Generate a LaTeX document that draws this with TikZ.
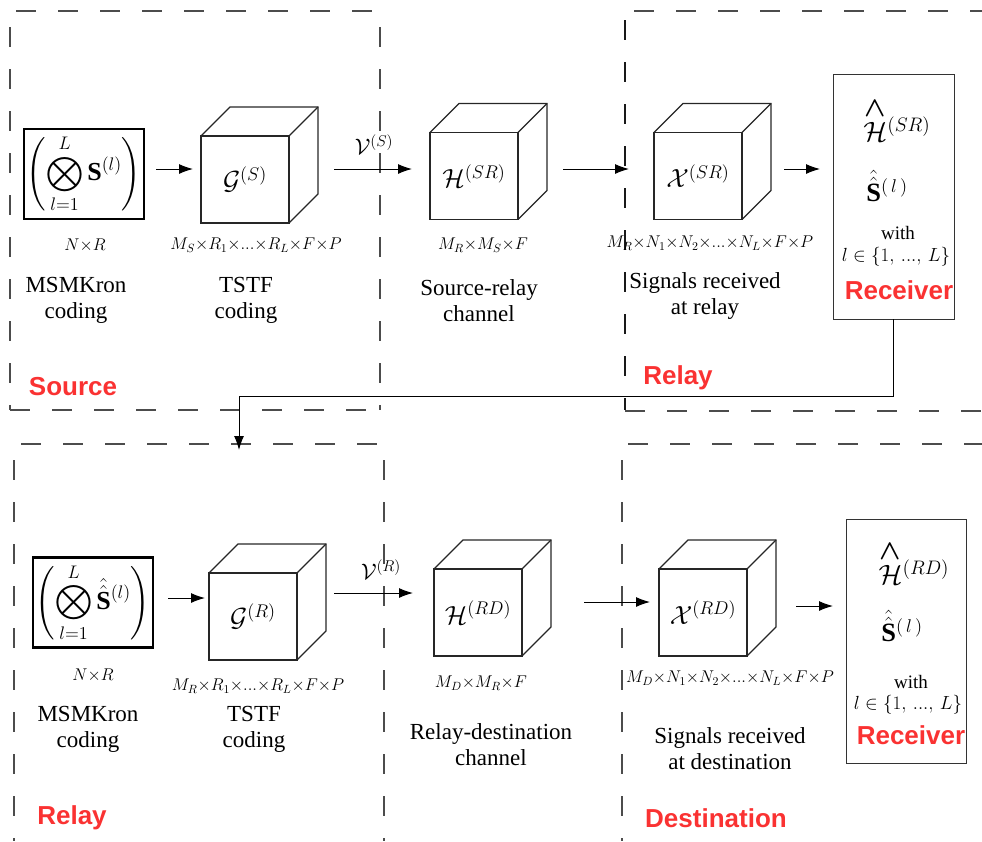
\RequirePackage{fix-cm}
\documentclass[tikz,border=0pt]{standalone}
\usepackage{amsmath}
\usepackage{graphicx}
\usepackage{fontspec}
\setmainfont{Liberation Serif}
\newfontfamily\labelfont{Liberation Sans}
\usetikzlibrary{arrows.meta}
\definecolor{tagred}{RGB}{250,50,50}

% depth edges of a cube whose front face is the node #1
\newcommand\cubedepth[1]{%
  \draw[cubeedge] (#1.north west) -- ++(29,-29) -- ++(88,0) -- ++(0,87) -- (#1.south east);
  \draw[cubeedge] (#1.north east) -- ++(29,-29);}
% enlarged math symbol
\newcommand\bigsym[2]{\scalebox{#1}{$#2$}}

\begin{document}
\begin{tikzpicture}[x=1pt,y=-1pt,
  frame/.style={draw=black!70, line width=1.3pt, dash pattern=on 20pt off 22pt},
  cubeface/.style={draw=black!85, line width=1.1pt, fill=white, minimum width=88pt,
    minimum height=87pt, inner sep=0pt, outer sep=0pt, font=\fontsize{21}{24}\selectfont},
  cubeedge/.style={draw=black!85, line width=1.1pt},
  kron/.style={draw, line width=2.6pt, minimum width=120pt, minimum height=90pt,
    inner sep=0pt, outer sep=0pt, font=\fontsize{22}{24}\selectfont},
  rxbox/.style={draw=black!80, line width=1pt, minimum width=121pt, minimum height=245pt,
    inner sep=0pt, outer sep=0pt},
  arr/.style={-{Latex[length=14pt,width=10pt]}, line width=1pt},
  txt/.style={font=\fontsize{23}{26}\selectfont, align=center, inner sep=0pt},
  dim/.style={font=\fontsize{17}{20}\selectfont, inner sep=0pt},
  tag/.style={font=\labelfont\bfseries\fontsize{26}{30}\selectfont, text=tagred, inner sep=0pt},
  rtxt/.style={font=\fontsize{19}{22}\selectfont, inner sep=0pt},
  sym/.style={font=\fontsize{22}{24}\selectfont, inner sep=0pt},
]
\useasboundingbox (0,0) rectangle (982,841);

% ---------------- dashed frames ----------------
\draw[frame] (16,11) -- (375,11);
\draw[frame] (10,27) -- (10,410);
\draw[frame] (380,27) -- (380,410);
\draw[frame] (10,410) -- (380,410);

\draw[frame] (634,11) -- (982,11);
\draw[frame,draw=black!90] (625,20) -- (625,410);
\draw[frame] (625,411) -- (982,411);

\draw[frame] (21,444) -- (380,444);
\draw[frame] (14,460) -- (14,841);
\draw[frame] (384,460) -- (384,841);

\draw[frame] (628,444) -- (982,444);
\draw[frame] (622,460) -- (622,841);

% ---------------- source to relay ----------------
\node[kron] (kronS) at (84,174)
  {\bigsym{1.18}{\left(\displaystyle\bigotimes_{l=1}^{L}\mathbf{S}^{(l)}\right)}};
\node[cubeface] (GS) at (245,179.5) {\bigsym{1.25}{\mathcal{G}^{(S)}}};
\node[cubeface] (HSR) at (474,176) {\bigsym{1.25}{\mathcal{H}^{(SR)}}};
\node[cubeface] (XSR) at (698,176) {\bigsym{1.25}{\mathcal{X}^{(SR)}}};
\cubedepth{GS}
\cubedepth{HSR}
\cubedepth{XSR}
\node[rxbox] (rxR) at (893.5,196.5) {};

\node[sym] (hHSR) at (897,120)
  {\bigsym{1.27}{\overset{\textstyle\boldsymbol{\wedge}}{\mathcal{H}}\vphantom{H}^{(SR)}}};
\node[sym] (hSR) at (887,186) {\bigsym{1.2}{\hat{\hat{\mathbf{S}}}^{(\,l\,)}}};
\node[rtxt] (withR) at (898,233) {with};
\node[rtxt] (setR) at (896,257) {$l\in\{1,\,...,\,L\}$};
\node[tag] (recR) at (899,290) {Receiver};

\node[dim] (dNR1) at (85,245) {$N{\times}R$};
\node[dim] (dGS) at (256,245) {$M_S{\times}R_1{\times}...{\times}R_L{\times}F{\times}P$};
\node[dim] (dHSR) at (483,245) {$M_R{\times}M_S{\times}F$};
\node[dim] (dXSR) at (710,243) {$M_R{\times}N_1{\times}N_2{\times}...{\times}N_L{\times}F{\times}P$};

\node[txt] (tK1) at (76,300) {MSMKron\\coding};
\node[txt] (tT1) at (246,300) {TSTF\\coding};
\node[txt] (tC1) at (479,301) {Source-relay\\channel};
\node[txt] (tS1) at (705,296) {Signals received\\at relay};

\node[tag] (tagSrc) at (73,387) {Source};
\node[tag] (tagRel1) at (678,378) {Relay};
\node[sym,font=\fontsize{20}{24}\selectfont] (vS) at (374,145) {\bigsym{1.12}{\mathcal{V}^{(S)}}};

\coordinate (p1) at (156,169);  \coordinate (q1) at (193,169);
\coordinate (p2) at (334,169);  \coordinate (q2) at (412,169);
\coordinate (p3) at (563,169);  \coordinate (q3) at (629,169);
\coordinate (p4) at (784,169);  \coordinate (q4) at (820,169);
\draw[arr] (p1) -- (q1);
\draw[arr] (p2) -- (q2);
\draw[arr] (p3) -- (q3);
\draw[arr] (p4) -- (q4);

% feedback from the relay receiver into the relay encoder
\coordinate (turn) at (239,396);
\coordinate (drop) at (239,450);
\draw[arr] (rxR.south) |- (turn) -- (drop);

% ---------------- relay to destination ----------------
\node[kron] (kronR) at (93,602.5)
  {\bigsym{1.18}{\left(\displaystyle\bigotimes_{l=1}^{L}\hat{\hat{\mathbf{S}}}^{(l)}\right)}};
\node[cubeface] (GR) at (253,616.5) {\bigsym{1.25}{\mathcal{G}^{(R)}}};
\node[cubeface] (HRD) at (478,612.5) {\bigsym{1.25}{\mathcal{H}^{(RD)}}};
\node[cubeface] (XRD) at (703,612.5) {\bigsym{1.25}{\mathcal{X}^{(RD)}}};
\cubedepth{GR}
\cubedepth{HRD}
\cubedepth{XRD}
\node[rxbox,minimum width=120pt,minimum height=244pt] (rxD) at (906,641) {};

\node[sym] (hHRD) at (914,563)
  {\bigsym{1.27}{\overset{\textstyle\boldsymbol{\wedge}}{\mathcal{H}}\vphantom{H}^{(RD)}}};
\node[sym] (hSD) at (902,626) {\bigsym{1.2}{\hat{\hat{\mathbf{S}}}^{(\,l\,)}}};
\node[rtxt] (withD) at (911,682) {with};
\node[rtxt] (setD) at (908,705) {$l\in\{1,\,...,\,L\}$};
\node[tag] (recD) at (911,735) {Receiver};

\node[dim] (dNR2) at (93,675) {$N{\times}R$};
\node[dim] (dGR) at (258,686) {$M_R{\times}R_1{\times}...{\times}R_L{\times}F{\times}P$};
\node[dim] (dHRD) at (481,683) {$M_D{\times}M_R{\times}F$};
\node[dim] (dXRD) at (730,678) {$M_D{\times}N_1{\times}N_2{\times}...{\times}N_L{\times}F{\times}P$};

\node[txt] (tK2) at (88,729) {MSMKron\\coding};
\node[txt] (tT2) at (254,729) {TSTF\\coding};
\node[txt] (tC2) at (491,745) {Relay-destination\\channel};
\node[txt] (tS2) at (730,749) {Signals received\\at destination};

\node[tag] (tagRel2) at (72,818) {Relay};
\node[tag] (tagDst) at (716,818) {Destination};
\node[sym,font=\fontsize{20}{24}\selectfont] (vR) at (381,570) {\bigsym{1.12}{\mathcal{V}^{(R)}}};

\coordinate (p5) at (168,598);  \coordinate (q5) at (205,598);
\coordinate (p6) at (334,593);  \coordinate (q6) at (413,593);
\coordinate (p7) at (584,602);  \coordinate (q7) at (650,602);
\coordinate (p8) at (796,606);  \coordinate (q8) at (833,606);
\draw[arr] (p5) -- (q5);
\draw[arr] (p6) -- (q6);
\draw[arr] (p7) -- (q7);
\draw[arr] (p8) -- (q8);
\end{tikzpicture}
\end{document}
